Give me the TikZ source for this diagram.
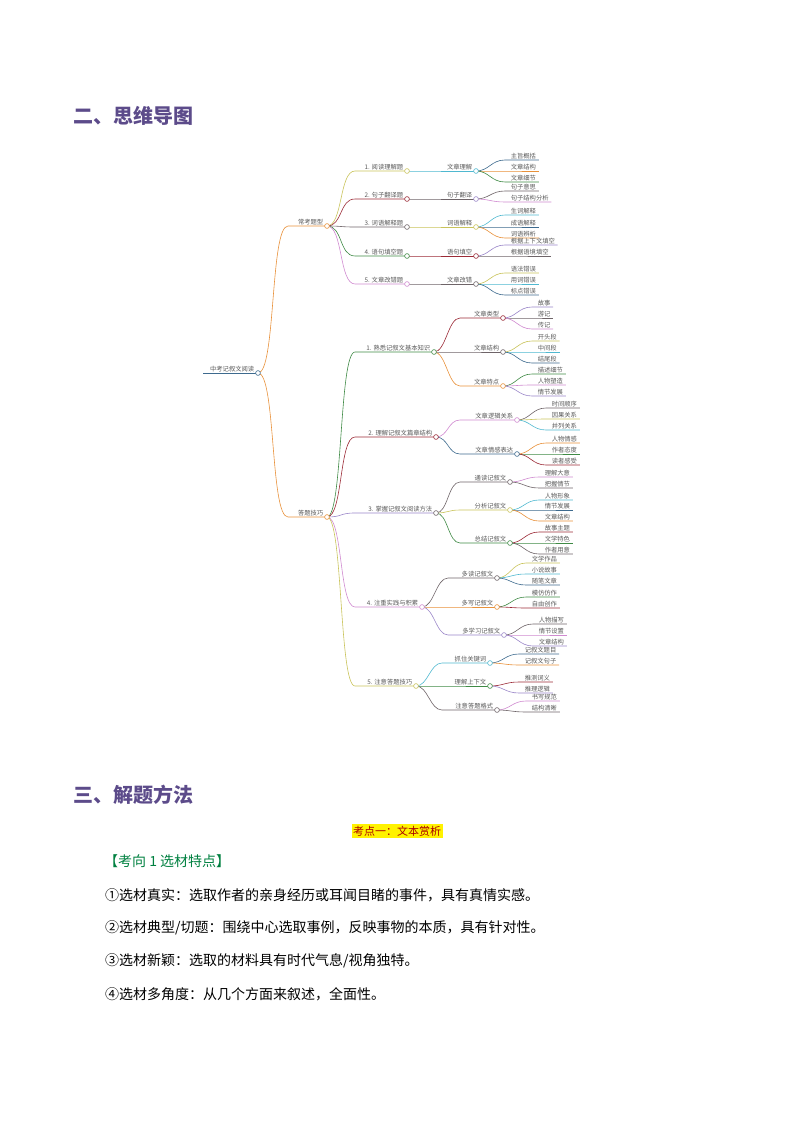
\documentclass[tikz,border=0pt]{standalone}
\usepackage{fontspec}
\setmainfont{Noto Sans CJK SC}
\usetikzlibrary{calc}
\definecolor{cOr}{HTML}{E8913A}
\definecolor{cYe}{HTML}{C9C35A}
\definecolor{cRe}{HTML}{9B2A36}
\definecolor{cGy}{HTML}{6E6468}
\definecolor{cGr}{HTML}{3F8A45}
\definecolor{cPk}{HTML}{D08AD0}
\definecolor{cCy}{HTML}{4FB8D0}
\definecolor{cBl}{HTML}{3D6A8E}
\definecolor{cLv}{HTML}{9A86C8}
\definecolor{cHead}{HTML}{5C4B8A}
\newcount\leafno
% internal node: name, parent, ctrl, xstart, y, xcircle, color, text
\newcommand\mmnode[8]{%
  \draw[#7,mm] (#2) .. controls ($(#2)+(#3,0)$) and ($(#4,#5)+(-#3,0)$) .. (#4,#5) -- (#6,#5);
  \node[mmtext,anchor=south east] (#1t) at (#6-3,#5) {#8};
  \coordinate (#1) at (#6,#5);}
\newcommand\mmdot[2]{\draw[#2,mm,fill=white] (#1) circle (2.4);}
% leaf: parent, px, y, color, text
\newcommand\mmleaf[5]{%
  \global\advance\leafno by 1
  \node[mmtext,anchor=south west] (leaf\the\leafno) at (#2+34,#3) {#5};
  \draw[#4,mm] (#1) .. controls ($(#1)+(13,0)$) and (#2+15,#3) .. (#2+29,#3) -- ($(leaf\the\leafno.south east)+(2,0)$);}
\begin{document}
\begin{tikzpicture}[x=1pt,y=-1pt,
  mm/.style={line width=0.6pt},
  mmtext/.style={font=\fontsize{6.3}{7}\selectfont,text=black!65,inner sep=0.6pt},
  head/.style={font=\fontsize{20}{24}\selectfont\bfseries,text=cHead,anchor=west},
  body/.style={font=\fontsize{14}{16}\selectfont,anchor=west,inner sep=0}]
\useasboundingbox (0,0) rectangle (794,1123);
\node[head] (h2) at (70,116) {二、思维导图};
\node[head] (h3) at (70,795) {三、解题方法};
% root
\coordinate (root) at (258,373);
\draw[cBl,line width=1pt] (203,373) -- (root);
\node[mmtext,anchor=south east] (roott) at (255,373) {中考记叙文阅读};
% level 1
\mmnode{A}{root}{18}{288}{226}{327}{cOr}{常考题型}
\mmnode{B}{root}{18}{288}{517}{327}{cOr}{答题技巧}
% A children
\mmnode{A1}{A}{16}{355}{171}{407}{cYe}{1. 阅读理解题}
\mmnode{A2}{A}{16}{355}{199}{407}{cRe}{2. 句子翻译题}
\mmnode{A3}{A}{16}{355}{227}{407}{cGy}{3. 词语解释题}
\mmnode{A4}{A}{16}{355}{256}{407}{cGr}{4. 语句填空题}
\mmnode{A5}{A}{16}{355}{284}{407}{cPk}{5. 文章改错题}
\mmnode{A1a}{A1}{5}{407}{171}{476}{cCy}{文章理解}
\mmnode{A2a}{A2}{5}{407}{199}{476}{cGy}{句子翻译}
\mmnode{A3a}{A3}{5}{407}{227}{476}{cYe}{词语解释}
\mmnode{A4a}{A4}{5}{407}{256}{476}{cRe}{语句填空}
\mmnode{A5a}{A5}{5}{407}{284}{476}{cGy}{文章改错}
\mmleaf{A1a}{476}{160}{cBl}{主旨概括}
\mmleaf{A1a}{476}{171}{cOr}{文章结构}
\mmleaf{A1a}{476}{182}{cGr}{文章细节}
\mmleaf{A2a}{476}{191}{cGy}{句子意思}
\mmleaf{A2a}{476}{202}{cPk}{句子结构分析}
\mmleaf{A3a}{476}{215}{cCy}{生词解释}
\mmleaf{A3a}{476}{227}{cBl}{成语解释}
\mmleaf{A3a}{476}{238}{cOr}{词语辨析}
\mmleaf{A4a}{476}{245}{cLv}{根据上下文填空}
\mmleaf{A4a}{476}{256}{cGy}{根据语境填空}
\mmleaf{A5a}{476}{273}{cYe}{语法错误}
\mmleaf{A5a}{476}{284}{cCy}{用词错误}
\mmleaf{A5a}{476}{295}{cBl}{标点错误}
% B children
\mmnode{B1}{B}{16}{355}{352}{434}{cGr}{1. 熟悉记叙文基本知识}
\mmnode{B2}{B}{16}{355}{437}{436}{cRe}{2. 理解记叙文篇章结构}
\mmnode{B3}{B}{16}{355}{513}{436}{cLv}{3. 掌握记叙文阅读方法}
\mmnode{B4}{B}{16}{355}{607}{422}{cPk}{4. 注重实践与积累}
\mmnode{B5}{B}{16}{355}{686}{416}{cYe}{5. 注意答题技巧}
\mmnode{B1a}{B1}{12}{460}{318}{503}{cRe}{文章类型}
\mmnode{B1b}{B1}{12}{460}{352}{503}{cGy}{文章结构}
\mmnode{B1c}{B1}{12}{460}{386}{503}{cOr}{文章特点}
\mmnode{B2a}{B2}{12}{460}{420}{517}{cPk}{文章逻辑关系}
\mmnode{B2b}{B2}{12}{460}{454}{517}{cBl}{文章情感表达}
\mmnode{B3a}{B3}{12}{460}{482}{510}{cGy}{通读记叙文}
\mmnode{B3b}{B3}{12}{460}{510}{510}{cYe}{分析记叙文}
\mmnode{B3c}{B3}{12}{460}{543}{510}{cGr}{总结记叙文}
\mmnode{B4a}{B4}{12}{448}{578}{497}{cGy}{多读记叙文}
\mmnode{B4b}{B4}{12}{448}{607}{497}{cOr}{多写记叙文}
\mmnode{B4c}{B4}{12}{448}{635}{504}{cLv}{多学习记叙文}
\mmnode{B5a}{B5}{12}{442}{663}{490}{cCy}{抓住关键词}
\mmnode{B5b}{B5}{12}{442}{686}{490}{cGr}{理解上下文}
\mmnode{B5c}{B5}{12}{442}{710}{497}{cGy}{注意答题格式}
\mmleaf{B1a}{503}{307}{cLv}{故事}
\mmleaf{B1a}{503}{318}{cGy}{游记}
\mmleaf{B1a}{503}{329}{cPk}{传记}
\mmleaf{B1b}{503}{341}{cYe}{开头段}
\mmleaf{B1b}{503}{352}{cCy}{中间段}
\mmleaf{B1b}{503}{363}{cBl}{结尾段}
\mmleaf{B1c}{503}{374}{cGr}{描述细节}
\mmleaf{B1c}{503}{385}{cPk}{人物塑造}
\mmleaf{B1c}{503}{396}{cLv}{情节发展}
\mmleaf{B2a}{517}{408}{cGy}{时间顺序}
\mmleaf{B2a}{517}{419}{cYe}{因果关系}
\mmleaf{B2a}{517}{430}{cCy}{并列关系}
\mmleaf{B2b}{517}{443}{cOr}{人物情感}
\mmleaf{B2b}{517}{454}{cGr}{作者态度}
\mmleaf{B2b}{517}{465}{cRe}{读者感受}
\mmleaf{B3a}{510}{477}{cPk}{理解大意}
\mmleaf{B3a}{510}{488}{cGy}{把握情节}
\mmleaf{B3b}{510}{500}{cCy}{人物形象}
\mmleaf{B3b}{510}{510}{cBl}{情节发展}
\mmleaf{B3b}{510}{521}{cOr}{文章结构}
\mmleaf{B3c}{510}{532}{cRe}{故事主题}
\mmleaf{B3c}{510}{543}{cGr}{文学特色}
\mmleaf{B3c}{510}{554}{cGy}{作者用意}
\mmleaf{B4a}{497}{563}{cYe}{文学作品}
\mmleaf{B4a}{497}{574}{cCy}{小说故事}
\mmleaf{B4a}{497}{585}{cBl}{随笔文章}
\mmleaf{B4b}{497}{597}{cGr}{模仿仿作}
\mmleaf{B4b}{497}{608}{cRe}{自由创作}
\mmleaf{B4c}{504}{624}{cGy}{人物描写}
\mmleaf{B4c}{504}{635}{cPk}{情节设置}
\mmleaf{B4c}{504}{646}{cLv}{文章结构}
\mmleaf{B5a}{490}{654}{cBl}{记叙文题目}
\mmleaf{B5a}{490}{665}{cOr}{记叙文句子}
\mmleaf{B5b}{490}{682}{cRe}{推测词义}
\mmleaf{B5b}{490}{693}{cLv}{推理逻辑}
\mmleaf{B5c}{497}{701}{cPk}{书写规范}
\mmleaf{B5c}{497}{712}{cGy}{结构清晰}
% circles on top
\mmdot{root}{cBl}
\mmdot{A}{cOr}\mmdot{B}{cOr}
\mmdot{A1}{cYe}\mmdot{A2}{cRe}\mmdot{A3}{cGy}\mmdot{A4}{cGr}\mmdot{A5}{cPk}
\mmdot{A1a}{cCy}\mmdot{A2a}{cLv}\mmdot{A3a}{cYe}\mmdot{A4a}{cRe}\mmdot{A5a}{cGy}
\mmdot{B1}{cGr}\mmdot{B2}{cRe}\mmdot{B3}{cGy}\mmdot{B4}{cPk}\mmdot{B5}{cYe}
\mmdot{B1a}{cRe}\mmdot{B1b}{cGy}\mmdot{B1c}{cOr}\mmdot{B2a}{cPk}\mmdot{B2b}{cBl}
\mmdot{B3a}{cGy}\mmdot{B3b}{cYe}\mmdot{B3c}{cGr}\mmdot{B4a}{cGy}\mmdot{B4b}{cOr}\mmdot{B4c}{cLv}
\mmdot{B5a}{cCy}\mmdot{B5b}{cGr}\mmdot{B5c}{cGy}
% text section
\node[fill=yellow,text={rgb,255:red,170;green,0;blue,0},font=\fontsize{11}{13}\selectfont,inner sep=1.5pt] (kd) at (397,831) {考点一：文本赏析};
\node[body,text={rgb,255:red,0;green,128;blue,64}] (kx) at (104,861) {【考向 1 选材特点】};
\node[body] (p1) at (105,895) {①选材真实：选取作者的亲身经历或耳闻目睹的事件，具有真情实感。};
\node[body] (p2) at (105,928) {②选材典型/切题：围绕中心选取事例，反映事物的本质，具有针对性。};
\node[body] (p3) at (105,961) {③选材新颖：选取的材料具有时代气息/视角独特。};
\node[body] (p4) at (105,994) {④选材多角度：从几个方面来叙述，全面性。};
\end{tikzpicture}
\end{document}
